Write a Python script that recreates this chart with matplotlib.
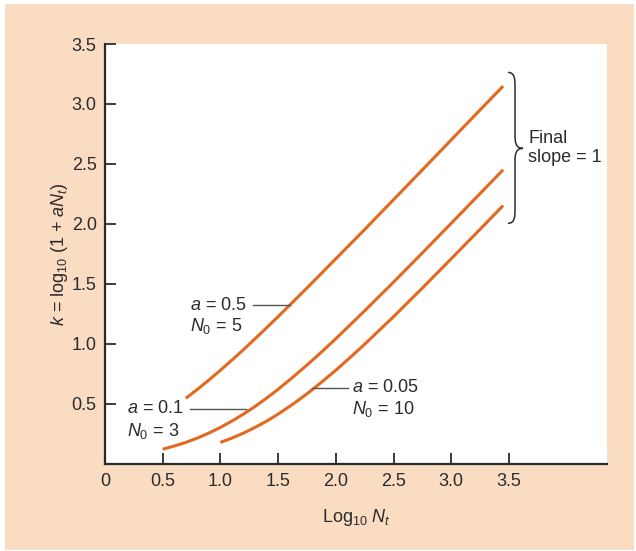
import matplotlib
matplotlib.use("Agg")
import matplotlib.pyplot as plt
from matplotlib.patches import Rectangle, PathPatch
from matplotlib.path import Path

plt.rcParams['font.family'] = ['Liberation Sans', 'DejaVu Sans']
plt.rcParams['mathtext.fontset'] = 'custom'
plt.rcParams['mathtext.rm'] = 'Liberation Sans'
plt.rcParams['mathtext.it'] = 'Liberation Sans:italic'

# values
x_a05 = [0.7, 0.8, 0.9, 1.0, 1.1, 1.2, 1.35, 1.5, 1.75, 2.0, 2.25, 2.5, 2.75, 3.0, 3.25, 3.45]
k_a05 = [0.544, 0.618, 0.696, 0.778, 0.863, 0.950, 1.086, 1.225, 1.464, 1.708, 1.952,
         2.201, 2.450, 2.700, 2.950, 3.149]

x_a01 = [0.5, 0.6, 0.7, 0.8, 0.9, 1.0, 1.1, 1.2, 1.3, 1.4, 1.5, 1.625, 1.75, 1.875,
         2.0, 2.25, 2.5, 2.75, 3.0, 3.25, 3.45]
k_a01 = [0.119, 0.146, 0.176, 0.212, 0.254, 0.301, 0.354, 0.412, 0.476, 0.545, 0.619,
         0.718, 0.821, 0.929, 1.041, 1.274, 1.513, 1.757, 2.004, 2.252, 2.451]

x_a005 = [1.0, 1.1, 1.2, 1.3, 1.4, 1.5, 1.625, 1.75, 1.875, 2.0, 2.125, 2.25, 2.5,
          2.75, 3.0, 3.25, 3.45]
k_a005 = [0.176, 0.212, 0.254, 0.301, 0.353, 0.412, 0.493, 0.581, 0.677, 0.778, 0.885,
          0.995, 1.225, 1.464, 1.708, 1.954, 2.152]

xticks = [0, 0.5, 1.0, 1.5, 2.0, 2.5, 3.0, 3.5]
xticklabels = ["0", "0.5", "1.0", "1.5", "2.0", "2.5", "3.0", "3.5"]
yticks = [0.5, 1.0, 1.5, 2.0, 2.5, 3.0, 3.5]
yticklabels = ["0.5", "1.0", "1.5", "2.0", "2.5", "3.0", "3.5"]

peach = "#FADCC3"
orange = "#E2691E"
dark = "#2b2b2b"
fs = 13

fig = plt.figure(figsize=(6.36, 5.51), dpi=100, facecolor="white")
bg = Rectangle((5 / 636, 1 / 551), 629 / 636, 546 / 551,
               transform=fig.transFigure, facecolor=peach,
               edgecolor="none", zorder=-10)
fig.add_artist(bg)

ax = fig.add_axes([105 / 636, (551 - 463.5) / 551, 502 / 636, 419.5 / 551])
ax.set_facecolor("white")

ax.plot(x_a05, k_a05, color=orange, lw=2.2, solid_capstyle="butt")
ax.plot(x_a01, k_a01, color=orange, lw=2.2, solid_capstyle="butt")
ax.plot(x_a005, k_a005, color=orange, lw=2.2, solid_capstyle="butt")

ax.set_xlim(0, 4.35)
ax.set_ylim(0, 3.5)
ax.set_xticks(xticks)
ax.set_xticklabels(xticklabels)
ax.set_yticks(yticks)
ax.set_yticklabels(yticklabels)
ax.tick_params(direction="in", length=8, width=1.3, color=dark,
               labelsize=fs, labelcolor=dark, pad=6)
ax.tick_params(axis="x", pad=7)

for side in ["top", "right"]:
    ax.spines[side].set_visible(False)
for side in ["left", "bottom"]:
    ax.spines[side].set_linewidth(1.6)
    ax.spines[side].set_color(dark)

ax.set_xlabel(r"Log$_{10}$ $N_t$", fontsize=fs, color=dark, labelpad=12)
ax.set_ylabel(r"$k$ = log$_{10}$ (1 + $aN_t$)", fontsize=fs, color=dark, labelpad=1)

# curve labels with leader lines
lead = dict(color="#555555", lw=1.0)
ax.plot([1.28, 1.60], [1.32, 1.32], **lead)
ax.text(0.74, 1.32, r"$a$ = 0.5", fontsize=fs, color=dark, va="center")
ax.text(0.74, 1.15, r"$N_0$ = 5", fontsize=fs, color=dark, va="center")

ax.plot([0.74, 1.22], [0.455, 0.455], **lead)
ax.text(0.19, 0.455, r"$a$ = 0.1", fontsize=fs, color=dark, va="center")
ax.text(0.19, 0.275, r"$N_0$ = 3", fontsize=fs, color=dark, va="center")

ax.plot([1.79, 2.11], [0.63, 0.63], **lead)
ax.text(2.14, 0.63, r"$a$ = 0.05", fontsize=fs, color=dark, va="center")
ax.text(2.14, 0.455, r"$N_0$ = 10", fontsize=fs, color=dark, va="center")

# curly brace for final slope
bx = (515 - 105) / 115.4
tip = (523 - 105) / 115.4
ytop = (463.5 - 72) / 120
ybot = (463.5 - 223) / 120
ymid = (463.5 - 148) / 120
d = 0.06
verts = [
    (bx - 0.06, ytop),
    (bx, ytop), (bx, ytop - d), (bx, ytop - 0.12),
    (bx, ymid + 0.12),
    (bx, ymid + d), (bx, ymid), (tip, ymid),
    (bx, ymid), (bx, ymid - d), (bx, ymid - 0.12),
    (bx, ybot + 0.12),
    (bx, ybot + d), (bx, ybot), (bx - 0.06, ybot),
]
codes = [Path.MOVETO,
         Path.CURVE4, Path.CURVE4, Path.CURVE4,
         Path.LINETO,
         Path.CURVE4, Path.CURVE4, Path.CURVE4,
         Path.CURVE4, Path.CURVE4, Path.CURVE4,
         Path.LINETO,
         Path.CURVE4, Path.CURVE4, Path.CURVE4]
ax.add_patch(PathPatch(Path(verts, codes), facecolor="none", edgecolor=dark,
                       lw=1.1, clip_on=False))
ax.text((528 - 105) / 115.4, ymid, "Final\nslope = 1", fontsize=fs,
        color=dark, va="center", ha="left", linespacing=1.15)

fig.savefig("out.png", dpi=100, facecolor=fig.get_facecolor())
